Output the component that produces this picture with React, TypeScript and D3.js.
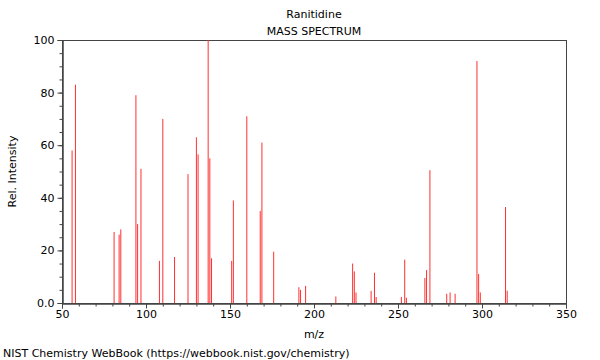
import React, { useEffect, useRef } from "react";
import * as d3 from "d3";

// peaks
const mz = [56, 58, 81, 84, 85, 94, 95, 97, 108, 110, 117, 125, 130, 131, 137, 138, 139, 151, 152, 160, 168, 169, 176, 191, 192, 195, 213, 223, 224, 225, 234, 236, 237, 252, 254, 255, 266, 267, 269, 279, 281, 284, 297, 298, 299, 314, 315];
const intensity = [58, 83, 27, 26, 28, 79, 30, 51, 16, 70, 17.5, 49, 63, 56.5, 100, 55, 17, 16, 39, 71, 35, 61, 19.5, 6, 5, 6.5, 2.5, 15, 12, 4, 4.6, 11.5, 2.3, 2.3, 16.5, 2, 9.5, 12.5, 50.5, 3.5, 4, 3.5, 92, 11, 4, 36.5, 4.7];
const xTicks = [50, 100, 150, 200, 250, 300, 350];
const yTicks = [0, 20, 40, 60, 80, 100];
const yTickLabels = ["0.0", "20", "40", "60", "80", "100"];

const title = "Ranitidine";
const subtitle = "MASS SPECTRUM";
const footer = "NIST Chemistry WebBook (https://webbook.nist.gov/chemistry)";

export default function App() {
  const svgRef = useRef<SVGSVGElement>(null);

  useEffect(() => {
    if (!svgRef.current) return;
    const svg = d3.select(svgRef.current);
    svg.selectAll("*").remove();

    const left = 62, right = 566, top = 40, bottom = 303;
    const font = "DejaVu Sans, sans-serif";
    const axisColor = "#444";

    const x = d3.scaleLinear().domain([50, 350]).range([left, right]);
    const y = d3.scaleLinear().domain([0, 100]).range([bottom, top]);

    // frame
    svg.append("rect")
      .attr("x", left + 0.5).attr("y", top + 0.5)
      .attr("width", right - left).attr("height", bottom - top)
      .attr("fill", "none").attr("stroke", axisColor);

    // peaks
    const peaks = mz.map((m, i) => ({ m, v: intensity[i] }));
    svg.append("g").selectAll("line")
      .data(peaks)
      .enter()
      .append("line")
      .attr("x1", (d) => x(d.m)).attr("x2", (d) => x(d.m))
      .attr("y1", bottom).attr("y2", (d) => y(d.v))
      .attr("stroke", "#ff3030").attr("stroke-width", 1);

    const style = (g: any) => {
      g.selectAll(".domain").attr("stroke", axisColor);
      g.selectAll("line").attr("stroke", axisColor);
      g.selectAll("text").style("font-family", font).style("font-size", "11px").attr("fill", "#000");
    };

    // x axis: minor every 10, major every 50
    svg.append("g").attr("transform", `translate(0,${bottom + 0.5})`)
      .call(d3.axisBottom(x).tickValues(d3.range(50, 351, 10)).tickSize(3).tickFormat(() => ""))
      .call(style);
    svg.append("g").attr("transform", `translate(0,${bottom + 0.5})`)
      .call(d3.axisBottom(x).tickValues(xTicks).tickSize(5).tickPadding(2).tickFormat(d3.format("d")))
      .call(style);

    // y axis: minor every 5, major every 20
    svg.append("g").attr("transform", `translate(${left + 0.5},0)`)
      .call(d3.axisLeft(y).tickValues(d3.range(0, 101, 5)).tickSize(3).tickFormat(() => ""))
      .call(style);
    svg.append("g").attr("transform", `translate(${left + 0.5},0)`)
      .call(d3.axisLeft(y).tickValues(yTicks).tickSize(5).tickPadding(3)
        .tickFormat((d, i) => yTickLabels[i]))
      .call(style);

    // labels
    const txt = (s: string, tx: number, ty: number, anchor = "middle") =>
      svg.append("text")
        .attr("x", tx).attr("y", ty)
        .attr("text-anchor", anchor)
        .style("font-family", font).style("font-size", "11px")
        .attr("fill", "#000")
        .text(s);

    txt(title, (left + right) / 2, 18);
    txt(subtitle, (left + right) / 2, 35);
    txt("m/z", (left + right) / 2, 338);
    txt(footer, 3, 357, "start");
    txt("Rel. Intensity", 0, 0).attr("transform", `translate(16,${(top + bottom) / 2}) rotate(-90)`);
  }, []);

  return (
    <div style={{ position: "fixed", top: 0, left: 0, width: 600, height: 360, background: "#fff" }}>
      <svg ref={svgRef} width={600} height={360} />
    </div>
  );
}
